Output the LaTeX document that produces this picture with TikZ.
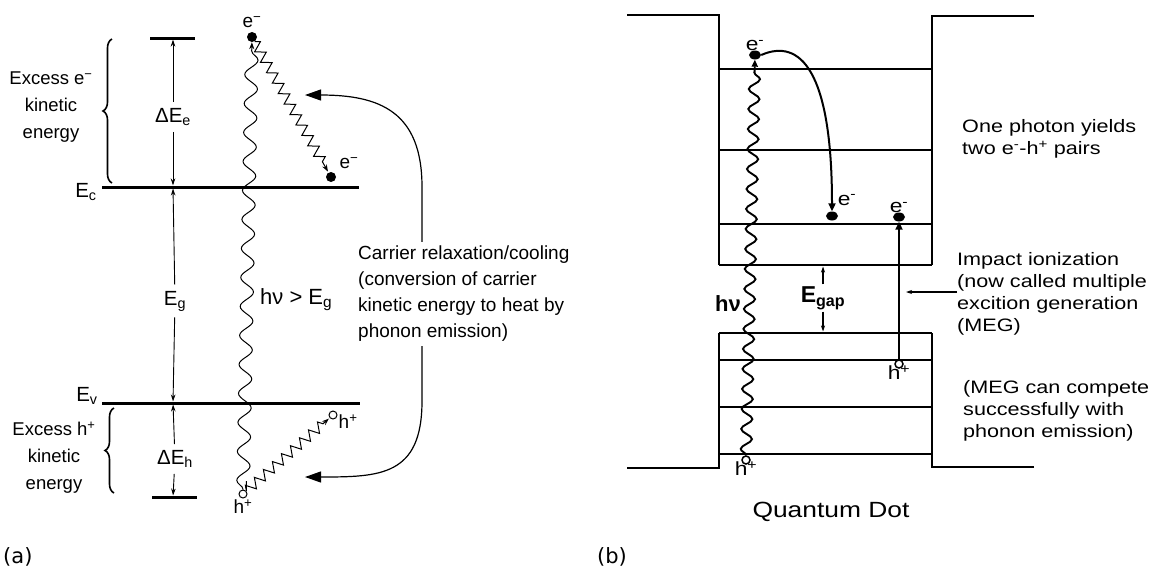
\documentclass[tikz,border=0pt]{standalone}
\usepackage{fontspec}
\setmainfont{Liberation Sans}
\newfontfamily\widefont[FakeStretch=1.2]{Liberation Sans}
\newfontfamily\tagfont{DejaVu Sans}
\usetikzlibrary{shapes.geometric, arrows.meta, positioning, decorations.pathmorphing, decorations.pathreplacing}
\tikzstyle{band} = [line width=3pt]
\tikzstyle{level} = [line width=1.6pt]
\tikzstyle{levelthick} = [line width=2.7pt]
\tikzstyle{wall} = [line width=2pt]
\tikzstyle{excess} = [font=\fontsize{18.5}{27}\selectfont, align=center, inner sep=0pt]
\tikzstyle{lbl} = [font=\fontsize{20.5}{22}\selectfont, inner sep=4pt]
\tikzstyle{note} = [font=\fontsize{19}{26}\selectfont, align=left, anchor=west, inner sep=0pt]
\tikzstyle{qdnote} = [font=\widefont\fontsize{18}{22}\selectfont, text width=200pt, align=left, anchor=west, inner sep=0pt]
\tikzstyle{dim} = [-{Stealth[length=7pt, width=4.5pt]}, line width=0.9pt]
\tikzstyle{bigarrow} = [-{Triangle[length=16pt, width=11pt]}, line width=1.2pt]
\tikzstyle{qdarrow} = [-{Triangle[length=8pt, width=7pt]}, line width=2pt]
\tikzstyle{smallarrow} = [-{Stealth[length=6pt, width=4pt]}, line width=1.1pt]
\tikzstyle{photon} = [decorate, decoration={snake, segment length=29pt, amplitude=6.5pt, post length=8pt}, line width=1pt, -{Stealth[length=7pt, width=5pt]}]
\tikzstyle{qdphoton} = [decorate, decoration={snake, segment length=20pt, amplitude=5.5pt, post length=7pt}, line width=1.9pt, -{Triangle[length=7pt, width=6pt]}]
\tikzstyle{phonon} = [decorate, decoration={zigzag, segment length=12pt, amplitude=5pt, post length=8pt}, line width=1pt, -{Stealth[length=7pt, width=5pt]}]
\tikzstyle{brace} = [decorate, decoration={brace, amplitude=9pt}, line width=1.6pt]
\tikzstyle{elec} = [circle, fill=black, inner sep=0pt, minimum size=10pt]
\tikzstyle{hole} = [circle, draw=black, fill=white, line width=1pt, inner sep=0pt, minimum size=8pt]
\tikzstyle{qdelec} = [ellipse, fill=black, inner sep=0pt, minimum width=12pt, minimum height=9pt]
\tikzstyle{qdhole} = [circle, draw=black, fill=white, line width=1.5pt, inner sep=0pt, minimum size=8pt]
\tikzstyle{carrier} = [inner sep=1pt, font=\fontsize{19}{20}\selectfont]
\tikzstyle{qdcarrier} = [inner sep=1pt, font=\widefont\fontsize{19}{20}\selectfont]
\begin{document}
\begin{tikzpicture}[x=1pt, y=-1pt]
  \useasboundingbox (0,0) rectangle (1160,574);

  % (a) bulk semiconductor bands
  \draw[band] (102,187) -- (359,187);
  \draw[band] (102,403) -- (360,403);
  \draw[band] (150,38) -- (195,38);
  \draw[band] (152,497) -- (197,497);
  \coordinate (topL) at (173,38);
  \coordinate (EcL) at (173,187);
  \coordinate (EvL) at (173,403);
  \coordinate (botL) at (173,497);

  \node[lbl] (Ec) at (86,192) {E\textsubscript{c}};
  \node[lbl] (Ev) at (87,396) {E\textsubscript{v}};

  \node[excess] (exe) at (51,107) {Excess e\textsuperscript{−}\\kinetic\\energy};
  \node[excess] (exh) at (54,458) {Excess h\textsuperscript{+}\\kinetic\\energy};
  \draw[brace] (112,183) -- (112,39);
  \draw[brace] (114,493) -- (114,408);

  \node[lbl, inner sep=6pt] (dEe) at (173,117) {ΔE\textsubscript{e}};
  \node[lbl, inner sep=6pt] (Eg) at (175,301) {E\textsubscript{g}};
  \node[lbl, inner sep=6pt] (dEh) at (175,459) {ΔE\textsubscript{h}};
  \draw[dim, shorten >=1.5pt] (dEe) -- (topL);
  \draw[dim, shorten >=1.5pt] (dEe) -- (EcL);
  \draw[dim, shorten >=1.5pt] (Eg) -- (EcL);
  \draw[dim, shorten >=1.5pt] (Eg) -- (EvL);
  \draw[dim, shorten >=1.5pt] (dEh) -- (EvL);
  \draw[dim, shorten >=1.5pt] (dEh) -- (botL);

  % carriers
  \node[elec] (eA) at (252,37) {};
  \node[carrier, above=-1pt of eA, yshift=4pt] (eAlbl) {e\textsuperscript{−}};
  \node[elec] (eB) at (331,177) {};
  \node[carrier] (eBlbl) at (349,163) {e\textsuperscript{−}};
  \node[hole] (hA) at (243,494) {};
  \node[carrier, below=0pt of hA] (hAlbl) {h\textsuperscript{+}};
  \node[hole] (hB) at (333,415) {};
  \node[carrier, right=0pt of hB, yshift=-7pt] (hBlbl) {h\textsuperscript{+}};

  \draw[photon] (hA) -- (eA);
  \node[lbl, anchor=west, font=\fontsize{22}{24}\selectfont] (hnu) at (256,300) {hν > E\textsubscript{g}};
  \draw[phonon, shorten >=1pt] (eA) -- (eB);
  \draw[phonon, shorten <=10pt, shorten >=1pt] (hA) -- (hB);

  % relaxation note
  \node[note] (cool) at (358,294) {Carrier relaxation/cooling\\(conversion of carrier\\kinetic energy to heat by\\phonon emission)};
  \coordinate (coolup) at (305,95);
  \coordinate (cooldown) at (305,477);
  \draw[bigarrow] ([xshift=64pt, yshift=4pt]cool.north west) -- ++(0,-55) .. controls +(0,-75) and +(75,0) .. (coolup);
  \draw[bigarrow] ([xshift=64pt, yshift=-4pt]cool.south west) -- ++(0,55) .. controls +(0,75) and +(75,0) .. (cooldown);

  \node[font=\tagfont\fontsize{21}{24}\selectfont, anchor=west, inner sep=0pt] (taga) at (3,557) {(a)};

  % (b) quantum dot well
  \draw[wall] (627,15) -- (719,15) -- (719,265);
  \draw[wall] (1034,16) -- (932,16) -- (932,265);
  \draw[wall] (627,468) -- (719,468) -- (719,333);
  \draw[wall] (1034,467) -- (932,467) -- (932,333);
  \draw[levelthick] (719,69) -- (932,69);
  \foreach \y in {150,224} \draw[level] (719,\y) -- (932,\y);
  \draw[levelthick] (719,265) -- (932,265);
  \draw[wall] (719,333) -- (932,333);
  \foreach \y in {360,407} \draw[level] (719,\y) -- (932,\y);
  \draw[levelthick] (719,454) -- (932,454);
  \coordinate (cbot) at (719,265);
  \coordinate (vtop) at (719,333);

  \node[qdelec] (eC) at (755,55) {};
  \node[qdcarrier, above=-2pt of eC] (eClbl) {e\textsuperscript{-}};
  \node[qdelec] (eD) at (832,216) {};
  \node[qdcarrier] (eDlbl) at (847,200) {e\textsuperscript{-}};
  \node[qdelec] (eE) at (899,217) {};
  \node[qdcarrier, above=-2pt of eE] (eElbl) {e\textsuperscript{-}};
  \node[qdhole] (hC) at (746,460) {};
  \node[qdcarrier, below=-4pt of hC] (hClbl) {h\textsuperscript{+}};
  \node[qdhole] (hD) at (899,364) {};
  \node[qdcarrier, below=-4pt of hD] (hDlbl) {h\textsuperscript{+}};

  \draw[qdphoton] (hC) -- (eC);
  \draw[qdarrow] (eC.east) .. controls (800,38) and (832,70) .. (eD.north);
  \draw[qdarrow] (hD) -- (eE);

  \node[font=\bfseries\fontsize{22}{24}\selectfont, anchor=east, inner sep=0pt] (qdhnu) at (741,304) {hν};
  \node[font=\bfseries\fontsize{23}{24}\selectfont, inner sep=0pt] (gap) at (823,298) {E\textsubscript{gap}};
  \draw[smallarrow, shorten >=1.5pt] ([yshift=2pt]gap.north) -- (gap.north |- cbot);
  \draw[smallarrow, shorten >=1.5pt] ([yshift=-2pt]gap.south) -- (gap.south |- vtop);

  \node[qdnote] (yield) at (962,139) {One photon yields\\two e\textsuperscript{-}-h\textsuperscript{+} pairs};
  \node[qdnote] (impact) at (957,294) {Impact ionization\\(now called multiple\\excition generation\\(MEG)};
  \node[qdnote] (compete) at (963,411) {(MEG can compete\\successfully with\\phonon emission)};
  \coordinate (megtip) at (906,292);
  \draw[smallarrow] ([yshift=2pt]impact.west) -- (megtip);

  \node[font=\widefont\fontsize{22}{24}\selectfont] (qd) at (831,512) {Quantum Dot};
  \node[font=\tagfont\fontsize{21}{24}\selectfont, anchor=west, inner sep=0pt] (tagb) at (597,557) {(b)};
\end{tikzpicture}
\end{document}
